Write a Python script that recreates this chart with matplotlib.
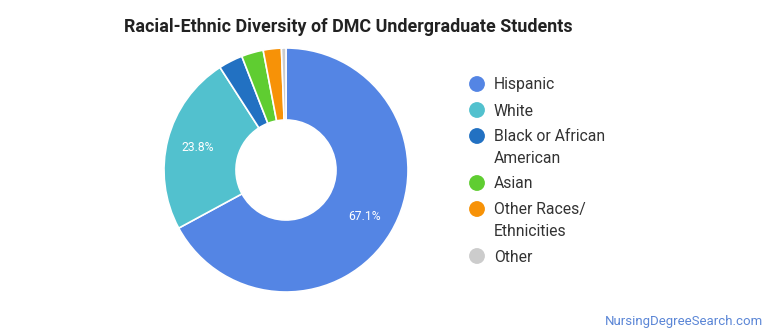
import matplotlib
matplotlib.use("Agg")
import matplotlib.pyplot as plt
from matplotlib.patches import Circle

plt.rcParams['font.family'] = ['Roboto', 'DejaVu Sans']

categories = ["Hispanic", "White", "Black or African\nAmerican", "Asian",
              "Other Races/\nEthnicities", "Other"]
values = [67.1, 23.8, 3.2, 2.9, 2.4, 0.6]
colors = ["#5485e4", "#52c1ce", "#2271c2", "#5fcd31", "#f79207", "#cccccc"]
title = "Racial-Ethnic Diversity of DMC Undergraduate Students"
watermark = "NursingDegreeSearch.com"

W, H = 770, 335
fig = plt.figure(figsize=(W / 100, H / 100), dpi=100)
fig.patch.set_facecolor("white")

cx, cy, r = 286, 170, 122
ax = fig.add_axes([(cx - r) / W, (H - cy - r) / H, 2 * r / W, 2 * r / H])
wedges, _, autotexts = ax.pie(
    values, colors=colors, startangle=90, counterclock=False, radius=1.0,
    autopct=lambda p: f"{p:.1f}%" if p > 10 else "", pctdistance=0.75,
    textprops=dict(color="white", fontsize=8.7),
    wedgeprops=dict(width=0.59, edgecolor="white", linewidth=1.2))
ax.set_xlim(-1, 1)
ax.set_ylim(-1, 1)
ax.set_aspect("equal")
ax.axis("off")

# overlay axes in pixel coordinates
ov = fig.add_axes([0, 0, 1, 1], zorder=-1)
ov.set_xlim(0, W)
ov.set_ylim(H, 0)
ov.axis("off")

fig.text(348.5 / W, 1 - 27 / H, title, fontsize=12.9, fontweight="bold",
         color="#222222", ha="center", va="center")

leg_y = [84, 110, 146.5, 183, 219.5, 256]
for lab, col, y in zip(categories, colors, leg_y):
    first_y = y if "\n" not in lab else y - 10.5
    ov.add_patch(Circle((477, first_y), 7.2, color=col))
    ov.text(494, y + 1, lab, fontsize=11.3, color="#333333", ha="left",
            va="center", linespacing=1.62)

ov.text(763, 321, watermark, fontsize=9.5, color="#5b86d6", ha="right",
        va="center")

fig.savefig("out.png", dpi=100, facecolor="white")
